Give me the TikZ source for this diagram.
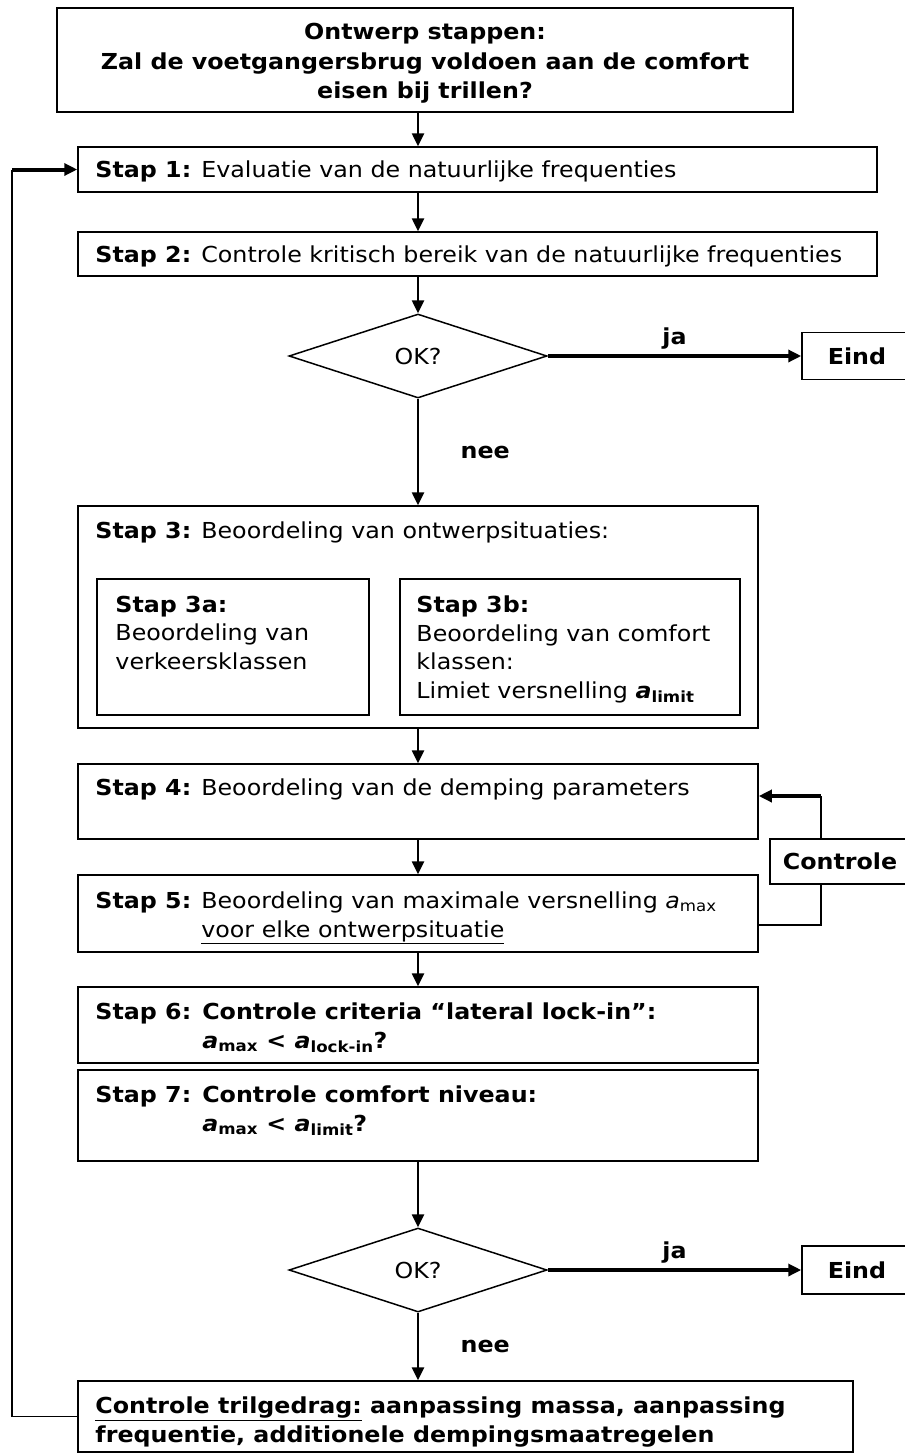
\documentclass[tikz,border=0pt]{standalone}
\usepackage{fontspec}
\setmainfont{DejaVu Sans}[FakeStretch=1.08]
\usetikzlibrary{arrows.meta,positioning,calc,shapes.geometric}

\newcommand{\fs}{\fontsize{22pt}{28.5pt}\selectfont}
\newcommand{\acc}[1]{\textit{a}\textsubscript{#1}}

\begin{document}
\begin{tikzpicture}[x=1pt, y=-1pt, >={Triangle[length=13pt,width=12pt]}, font=\fs]
    \tikzstyle{box} = [draw, rectangle, line width=1.5pt, inner sep=0pt]
    \tikzstyle{txt} = [anchor=north west, inner sep=0pt, align=left]
    \tikzstyle{line} = [draw, ->, line width=2.5pt]
    \tikzstyle{thickline} = [draw, ->, line width=4pt]
    \tikzstyle{thinline} = [draw, line width=1.5pt]
    \tikzstyle{lbl} = [font=\fs\bfseries]
    \tikzstyle{check} = [draw, diamond, line width=1.5pt, inner sep=0pt, minimum width=258pt, minimum height=84pt]

    \useasboundingbox (0,0) rectangle (905,1454);

    % Boxes
    \node [box, minimum width=736pt, minimum height=104pt] (top) at (425,60) {};
    \node [box, minimum width=799pt, minimum height=45pt] (s1) at (477.5,169.5) {};
    \node [box, minimum width=799pt, minimum height=44pt] (s2) at (477.5,254) {};
    \node [check] (ok1) at (418,356) {OK?};
    \node [box, minimum width=110pt, minimum height=47pt, lbl] (eind1) at (857,356) {Eind};
    \node [box, minimum width=680pt, minimum height=222pt] (s3) at (418,617) {};
    \node [box, minimum width=272pt, minimum height=136pt] (s3a) at (233,647) {};
    \node [box, minimum width=340pt, minimum height=136pt] (s3b) at (570,647) {};
    \node [box, minimum width=680pt, minimum height=75pt] (s4) at (418,801.5) {};
    \node [box, minimum width=140pt, minimum height=45pt, lbl] (ctl) at (840,861.5) {Controle};
    \node [box, minimum width=680pt, minimum height=77pt] (s5) at (418,913.5) {};
    \node [box, minimum width=680pt, minimum height=76pt] (s6) at (418,1025) {};
    \node [box, minimum width=680pt, minimum height=91pt] (s7) at (418,1115.5) {};
    \node [check] (ok2) at (418,1270) {OK?};
    \node [box, minimum width=110pt, minimum height=48pt, lbl] (eind2) at (857,1270) {Eind};
    \node [box, minimum width=775pt, minimum height=71pt] (fix) at (465.5,1416.5) {};

    % Texts
    \node [align=center, inner sep=0pt, font=\fontsize{22pt}{29.5pt}\selectfont\bfseries] (ttop) at ([yshift=-3.5pt]top.center)
        {Ontwerp stappen:\\Zal de voetgangersbrug voldoen aan de comfort\\eisen bij trillen?};
    \node [txt] (t1) at ([xshift=18pt,yshift=-14.5pt]s1.north west) {\textbf{Stap 1:} Evaluatie van de natuurlijke frequenties};
    \node [txt] (t2) at ([xshift=18pt,yshift=-14.5pt]s2.north west) {\textbf{Stap 2:} Controle kritisch bereik van de natuurlijke frequenties};
    \node [txt] (t3) at ([xshift=18pt,yshift=-16.5pt]s3.north west) {\textbf{Stap 3:} Beoordeling van ontwerpsituaties:};
    \node [txt] (t3a) at ([xshift=19pt,yshift=-17.5pt]s3a.north west) {\textbf{Stap 3a:}\\Beoordeling van\\verkeersklassen};
    \node [txt] (t3b) at ([xshift=17pt,yshift=-17.5pt]s3b.north west)
        {\textbf{Stap 3b:}\\Beoordeling van comfort\\klassen:\\Limiet versnelling \textbf{\acc{limit}}};
    \node [txt] (t4) at ([xshift=18pt,yshift=-15.5pt]s4.north west) {\textbf{Stap 4:} Beoordeling van de demping parameters};
    \node [txt] (t5) at ([xshift=18pt,yshift=-17.5pt]s5.north west)
        {\textbf{Stap 5:} Beoordeling van maximale versnelling \acc{max}\\\hphantom{\textbf{Stap 5:} }\underline{voor elke ontwerpsituatie}};
    \node [txt, font=\fs\bfseries] (t6) at ([xshift=18pt,yshift=-16.5pt]s6.north west)
        {Stap 6: Controle criteria “lateral lock-in”:\\\hphantom{Stap 6: }\acc{max} < \acc{lock-in}?};
    \node [txt, font=\fs\bfseries] (t7) at ([xshift=18pt,yshift=-16.5pt]s7.north west)
        {Stap 7: Controle comfort niveau:\\\hphantom{Stap 7: }\acc{max} < \acc{limit}?};
    \node [txt, font=\fs\bfseries] (tfix) at ([xshift=18pt,yshift=-16.5pt]fix.north west)
        {\underline{Controle trilgedrag:} aanpassing massa, aanpassing\\frequentie, additionele dempingsmaatregelen};

    % Main flow
    \draw [line] (top.south -| ok1) -- (s1.north -| ok1);
    \draw [line] (s1.south -| ok1) -- (s2.north -| ok1);
    \draw [line] (s2.south -| ok1) -- (ok1.north);
    \draw [thickline] (ok1.east) -- node[above=1pt, lbl] {ja} (eind1);
    \draw [line] (ok1.south) -- node[right=38pt, lbl] {nee} (s3.north -| ok1);
    \draw [line] (s3.south -| ok1) -- (s4.north -| ok1);
    \draw [line] (s4.south -| ok1) -- (s5.north -| ok1);
    \draw [line] (s5.south -| ok1) -- (s6.north -| ok1);
    \draw [line] (s7.south -| ok1) -- (ok2.north);
    \draw [thickline] (ok2.east) -- node[above=1pt, lbl] {ja} (eind2);
    \draw [line] (ok2.south) -- node[right=38pt, lbl] {nee} (fix.north -| ok1);

    % Controle loop
    \coordinate (cin) at (821,796);
    \draw [thinline] ([yshift=-11.5pt]s5.east) -| ([xshift=-19pt]ctl.south);
    \draw [thinline] ([xshift=-19pt]ctl.north) -- (cin);
    \draw [thickline] (cin) -- (cin -| s4.east);

    % Loop back
    \coordinate (back) at (12,169.5);
    \draw [thinline] (fix.west) -| (back);
    \draw [thickline] (back) -- (s1.west);
\end{tikzpicture}
\end{document}
